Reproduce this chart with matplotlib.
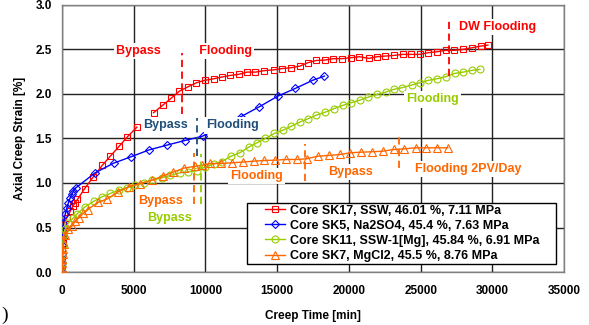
import numpy as np
import matplotlib
matplotlib.use("Agg")
import matplotlib.pyplot as plt
from matplotlib.patches import Rectangle

plt.rcParams['font.family'] = ['Liberation Sans', 'DejaVu Sans']
plt.rcParams['font.weight'] = 'bold'

nan = np.nan

# Core SK17, SSW
sk17_t = [0, 10, 20, 40, 60, 90, 110, 350, 580, 770, 930, 1090, 1580, 2200, 2810,
          3370, 4000, 4570, 5230, nan, 6390, 7015, 7600, 8180, 8790, 9370, 9940,
          10570, 11160, 11740, 12320, 12900, 13480, 14110, 14760, 15340, 15980,
          16570, 17150, 17730, 18310, 18900, 19520, 20150, 20730, 21380, 21960,
          22540, 23170, 23750, 24330, 24930, 25520, 26150, 26730, 27310, 27940,
          28590, 29170, 29680]
sk17_e = [0.0, 0.08, 0.15, 0.25, 0.33, 0.42, 0.53, 0.61, 0.68, 0.74, 0.78, 0.815,
          0.935, 1.07, 1.197, 1.30, 1.413, 1.519, 1.627, nan, 1.789, 1.871, 1.949,
          2.03, 2.08, 2.125, 2.152, 2.17, 2.19, 2.208, 2.22, 2.245, 2.245, 2.262,
          2.27, 2.285, 2.294, 2.312, 2.351, 2.376, 2.38, 2.396, 2.396, 2.407, 2.418,
          2.399, 2.418, 2.425, 2.433, 2.444, 2.444, 2.444, 2.463, 2.474, 2.489,
          2.489, 2.5, 2.519, 2.537, 2.548]

# Core SK5, Na2SO4
sk5_t = [0, 10, 20, 40, 60, 80, 110, 230, 350, 460, 580, 700, 810, 980, 2320,
         3600, 4830, 6090, 7320, 8550, 9810, 12480, 13760, 15040, 16270, 17500, 18290]
sk5_e = [0.0, 0.1, 0.2, 0.3, 0.38, 0.46, 0.55, 0.646, 0.721, 0.778, 0.834, 0.871,
         0.908, 0.946, 1.114, 1.222, 1.295, 1.372, 1.425, 1.476, 1.526, 1.745,
         1.856, 1.975, 2.062, 2.155, 2.2]

# Core SK11, SSW-1[Mg]
sk11_t = [0, 10, 30, 60, 100, 230, 460, 810, 1090, 1620, 2250, 2790, 3370, 3950,
          4530, 5110, 5690, 6280, 6970, 7550, 8250, 8800, 9390, 9990, 10570, 11160,
          11790, 12390, 13010, 13600, 14180, 14800, 15410, 15990, 16570, 17150,
          17730, 18360, 18940, 19570, 20150, 20750, 21340, 21970, 22550, 23120,
          23710, 24360, 24940, 25520, 26150, 26730, 27360, 27960, 28540, 29120]
sk11_e = [0.0, 0.1, 0.2, 0.3, 0.4, 0.478, 0.553, 0.609, 0.657, 0.733, 0.796, 0.845,
          0.882, 0.919, 0.946, 0.972, 1.002, 1.031, 1.058, 1.084, 1.115, 1.124,
          1.138, 1.18, 1.212, 1.24, 1.301, 1.339, 1.402, 1.452, 1.5, 1.556, 1.593,
          1.638, 1.683, 1.721, 1.762, 1.796, 1.834, 1.871, 1.901, 1.93, 1.964,
          1.994, 2.02, 2.051, 2.07, 2.099, 2.126, 2.152, 2.171, 2.193, 2.23, 2.245,
          2.264, 2.275]

# Core SK7, MgCl2
sk7_t = [0, 10, 20, 30, 50, 80, 120, 230, 460, 700, 930, 1200, 1500, 1790, 2550,
         3180, 3880, 4650, 5410, 6280, 7020, 7740, 8500, 9250, 9780, 10340, 11090,
         11850, 12590, 13360, 14110, 14870, 15640, 16390, 17080, 17830, 18590,
         19360, 20100, 20870, 21620, 22360, 23120, 23870, 24640, 25380, 26150, 26890]
sk7_e = [0.0, 0.05, 0.1, 0.15, 0.2, 0.26, 0.32, 0.42, 0.478, 0.515, 0.571, 0.61,
         0.66, 0.702, 0.784, 0.822, 0.897, 0.957, 0.994, 1.031, 1.077, 1.121, 1.167,
         1.186, 1.2, 1.219, 1.219, 1.227, 1.234, 1.245, 1.253, 1.256, 1.264, 1.264,
         1.272, 1.301, 1.309, 1.32, 1.339, 1.346, 1.351, 1.357, 1.376, 1.384, 1.395,
         1.395, 1.395, 1.395]

labels = ["Core SK17, SSW, 46.01 %, 7.11 MPa",
          "Core SK5, Na2SO4, 45.4 %, 7.63 MPa",
          "Core SK11, SSW-1[Mg], 45.84 %, 6.91 MPa",
          "Core SK7, MgCl2, 45.5 %, 8.76 MPa"]

RED = '#FF0000'
BLUE = '#0000FF'
GREEN = '#99CC00'
ORANGE = '#FF6600'
NAVY = '#1F4E79'

xticks = [0, 5000, 10000, 15000, 20000, 25000, 30000, 35000]
yticks = [0.0, 0.5, 1.0, 1.5, 2.0, 2.5, 3.0]

fig = plt.figure(figsize=(5.89, 3.25), dpi=100)
ax = fig.add_axes([0.105, 0.163, 0.853, 0.822])

series = [
    (sk17_t, sk17_e, RED, 's', 5.0),
    (sk5_t, sk5_e, BLUE, 'D', 4.0),
    (sk11_t, sk11_e, GREEN, 'o', 5.0),
    (sk7_t, sk7_e, ORANGE, '^', 5.5),
]
handles = []
for (t, e, c, m, ms), lab in zip(series, labels):
    h, = ax.plot(t, e, color=c, lw=1.0, marker=m, ms=ms, mfc='none', mec=c,
                 mew=0.8, label=lab, zorder=3)
    handles.append(h)

ax.set_xlim(0, 35000)
ax.set_ylim(0, 3.0)
ax.set_xticks(xticks)
ax.set_xticklabels([str(v) for v in xticks])
ax.set_yticks(yticks)
ax.set_yticklabels([f"{v:.1f}" for v in yticks])
ax.tick_params(length=0, labelsize=8.5)
ax.tick_params(axis='x', pad=9)
ax.tick_params(axis='y', pad=7)
ax.grid(True, color='#222222', lw=1.0, zorder=0)
ax.set_axisbelow(True)
for s in ax.spines.values():
    s.set_color('#808080')
    s.set_linewidth(1.0)

ax.set_xlabel("Creep Time [min]", fontsize=8.5, fontweight='bold', labelpad=10)
ax.set_ylabel("Axial Creep Strain [%]", fontsize=8.5, fontweight='bold', labelpad=7)

box = dict(facecolor='white', edgecolor='none', pad=1.5)


def note(x, y, s, c, ha='center'):
    ax.text(x, y, s, color=c, fontsize=9, fontweight='bold', ha=ha, va='center',
            bbox=box, zorder=4)


def marker_line(x, y0, y1, c):
    ax.plot([x, x], [y0, y1], color=c, lw=1.3, ls=(0, (4, 2.5)), zorder=5)


note(8500, 2.478, "Bypass           Flooding", RED)
marker_line(8370, 1.77, 2.46, RED)

note(7238, 1.646, "Bypass", NAVY)
note(11911, 1.646, "Flooding", NAVY)
marker_line(9410, 1.30, 1.735, NAVY)

marker_line(9180, 0.76, 1.34, ORANGE)
marker_line(9690, 0.76, 1.32, GREEN)
note(6855, 0.803, "Bypass", ORANGE)
note(7483, 0.612, "Bypass", GREEN)

note(13550, 1.076, "Flooding", ORANGE)
marker_line(16970, 1.02, 1.44, ORANGE)
note(20140, 1.121, "Bypass", ORANGE)
marker_line(23470, 1.17, 1.545, ORANGE)
note(28326, 1.16, "Flooding 2PV/Day", ORANGE)

note(25823, 1.938, "Flooding", GREEN)

marker_line(27000, 2.2, 2.84, RED)
note(30320, 2.755, "DW Flooding", RED)

# legend frame with a wide left margin
frame = Rectangle((0.369, 0.030), 0.615, 0.230, transform=ax.transAxes,
                  facecolor='white', edgecolor='black', lw=1.0, zorder=6)
ax.add_patch(frame)
leg = ax.legend(handles=handles, loc='center left', bbox_to_anchor=(0.404, 0.145),
                prop={'weight': 'bold', 'size': 9}, frameon=False,
                handlelength=1.6, handletextpad=0.4, labelspacing=0.25,
                borderpad=0, borderaxespad=0)
leg.set_zorder(7)

fig.text(0.003, 0.03, ")", fontsize=14, family='Liberation Serif',
         fontweight='normal', ha='left', va='center')

fig.savefig("out.png", dpi=100)
